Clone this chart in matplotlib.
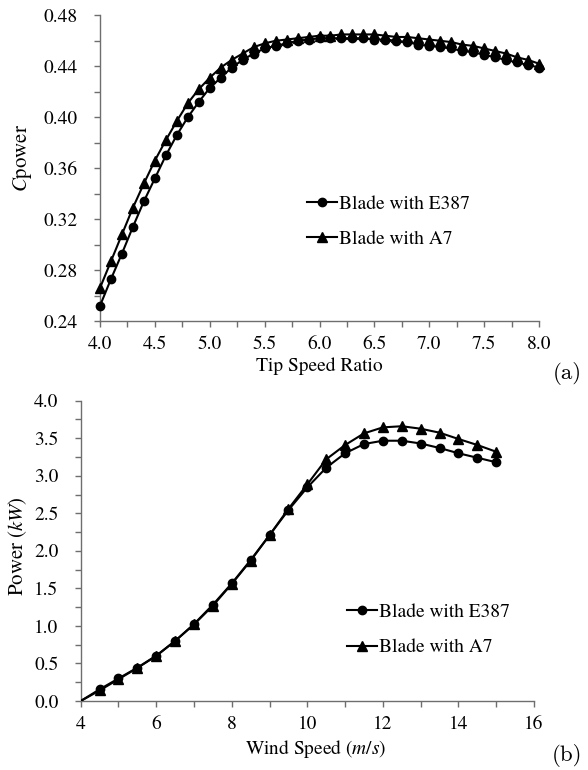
import numpy as np
import matplotlib
matplotlib.use("Agg")
import matplotlib.pyplot as plt
from matplotlib.ticker import MultipleLocator, FormatStrFormatter

# 字体设置：类 Times 字体
plt.rcParams["font.family"] = ["TeX Gyre Termes", "Liberation Serif", "STIXGeneral", "DejaVu Serif"]
plt.rcParams["mathtext.fontset"] = "custom"
plt.rcParams["mathtext.rm"] = "TeX Gyre Termes"
plt.rcParams["mathtext.it"] = "TeX Gyre Termes:italic"
plt.rcParams["font.size"] = 14

# (a) 功率系数 vs 叶尖速比
tsr = [4.0, 4.1, 4.2, 4.3, 4.4, 4.5, 4.6, 4.7, 4.8, 4.9,
       5.0, 5.1, 5.2, 5.3, 5.4, 5.5, 5.6, 5.7, 5.8, 5.9,
       6.0, 6.1, 6.2, 6.3, 6.4, 6.5, 6.6, 6.7, 6.8, 6.9,
       7.0, 7.1, 7.2, 7.3, 7.4, 7.5, 7.6, 7.7, 7.8, 7.9, 8.0]
cp_e387 = [0.252, 0.273, 0.293, 0.314, 0.334, 0.352, 0.370, 0.386, 0.400, 0.412,
           0.423, 0.431, 0.439, 0.445, 0.450, 0.454, 0.456, 0.458, 0.460, 0.461,
           0.462, 0.462, 0.462, 0.462, 0.462, 0.461, 0.461, 0.460, 0.459, 0.457,
           0.456, 0.455, 0.454, 0.452, 0.451, 0.449, 0.447, 0.445, 0.443, 0.441, 0.439]
cp_a7 = [0.266, 0.287, 0.308, 0.329, 0.348, 0.366, 0.382, 0.397, 0.411, 0.422,
         0.431, 0.439, 0.445, 0.450, 0.455, 0.458, 0.460, 0.461, 0.462, 0.463,
         0.464, 0.464, 0.465, 0.465, 0.465, 0.465, 0.464, 0.463, 0.463, 0.462,
         0.461, 0.460, 0.459, 0.457, 0.456, 0.454, 0.452, 0.450, 0.447, 0.445, 0.442]

# (b) 功率 vs 风速
wind = [4.0, 4.5, 5.0, 5.5, 6.0, 6.5, 7.0, 7.5, 8.0, 8.5, 9.0, 9.5,
        10.0, 10.5, 11.0, 11.5, 12.0, 12.5, 13.0, 13.5, 14.0, 14.5, 15.0]
p_e387 = [0.0, 0.155, 0.30, 0.444, 0.604, 0.80, 1.025, 1.283, 1.567, 1.878, 2.21, 2.544,
          2.846, 3.108, 3.30, 3.423, 3.467, 3.467, 3.43, 3.37, 3.30, 3.24, 3.18]
p_a7 = [0.0, 0.14, 0.29, 0.44, 0.60, 0.80, 1.02, 1.27, 1.56, 1.87, 2.21, 2.56,
        2.886, 3.22, 3.41, 3.565, 3.645, 3.66, 3.627, 3.574, 3.49, 3.41, 3.32]

labels = ["Blade with E387", "Blade with A7"]

fig = plt.figure(figsize=(5.88, 7.70), dpi=100)
ax1 = fig.add_axes([0.1701, 0.5831, 0.7466, 0.3970])
ax2 = fig.add_axes([0.1372, 0.0896, 0.7710, 0.3900])

axis_color = "#6e6e6e"


def style_axis(ax):
    # 只保留左、下坐标轴，刻度朝外
    for side in ["top", "right"]:
        ax.spines[side].set_visible(False)
    for side in ["left", "bottom"]:
        ax.spines[side].set_color(axis_color)
        ax.spines[side].set_linewidth(1.0)
    ax.tick_params(which="major", direction="out", length=4, width=1.0,
                   color=axis_color, labelsize=14)
    ax.tick_params(which="minor", direction="out", length=4, width=1.0,
                   color=axis_color)
    ax.tick_params(axis="y", which="major", pad=12)
    ax.tick_params(axis="x", which="major", pad=7)


def add_legend(ax, x, y):
    h, l = ax.get_legend_handles_labels()
    ax.legend(h[::-1], l[::-1], loc="center left", bbox_to_anchor=(x, y),
              bbox_transform=fig.transFigure, frameon=False, fontsize=14,
              handlelength=1.55, handletextpad=0.1, labelspacing=0.9,
              borderpad=0, borderaxespad=0)


# ---- (a) ----
ax1.plot(tsr, cp_a7, color="black", lw=1.5, marker="^", ms=7, label=labels[1], clip_on=False, zorder=3)
ax1.plot(tsr, cp_e387, color="black", lw=1.5, marker="o", ms=6, label=labels[0], clip_on=False, zorder=4)
ax1.set_xlim(4.0, 8.0)
ax1.set_ylim(0.24, 0.48)
ax1.xaxis.set_major_locator(MultipleLocator(0.5))
ax1.xaxis.set_minor_locator(MultipleLocator(0.25))
ax1.yaxis.set_major_locator(MultipleLocator(0.04))
ax1.yaxis.set_minor_locator(MultipleLocator(0.02))
ax1.xaxis.set_major_formatter(FormatStrFormatter("%.1f"))
ax1.yaxis.set_major_formatter(FormatStrFormatter("%.2f"))
style_axis(ax1)
ax1.set_xlabel("Tip Speed Ratio", fontsize=14)
ax1.xaxis.set_label_coords(0.544, 0.5364, transform=fig.transFigure)
ax1.set_ylabel(r"$C$power", fontsize=15)
ax1.yaxis.set_label_coords(0.058, 0.795, transform=fig.transFigure)
add_legend(ax1, 0.5221, 0.7123)

# ---- (b) ----
ax2.plot(wind, p_a7, color="black", lw=1.5, marker="^", ms=7, markevery=range(1, len(wind)),
         label=labels[1], zorder=3)
ax2.plot(wind, p_e387, color="black", lw=1.5, marker="o", ms=6, markevery=range(1, len(wind)),
         label=labels[0], zorder=4)
ax2.set_xlim(4, 16)
ax2.set_ylim(0.0, 4.0)
ax2.xaxis.set_major_locator(MultipleLocator(2))
ax2.xaxis.set_minor_locator(MultipleLocator(1))
ax2.yaxis.set_major_locator(MultipleLocator(0.5))
ax2.yaxis.set_minor_locator(MultipleLocator(0.25))
ax2.xaxis.set_major_formatter(FormatStrFormatter("%d"))
ax2.yaxis.set_major_formatter(FormatStrFormatter("%.1f"))
style_axis(ax2)
ax2.set_xlabel(r"Wind Speed ($m/s$)", fontsize=14)
ax2.xaxis.set_label_coords(0.537, 0.0416, transform=fig.transFigure)
ax2.set_ylabel(r"Power ($kW$)", fontsize=15)
ax2.yaxis.set_label_coords(0.05, 0.291, transform=fig.transFigure)
add_legend(ax2, 0.5901, 0.1818)

# 子图编号
fig.text(0.9643, 0.5143, "(a)", family=["cmr10", "DejaVu Serif"], fontsize=16.5, ha="center", va="center")
fig.text(0.9643, 0.0045, "(b)", family=["cmr10", "DejaVu Serif"], fontsize=16.5, ha="center", va="bottom")

fig.savefig("out.png", dpi=100)
plt.close(fig)
